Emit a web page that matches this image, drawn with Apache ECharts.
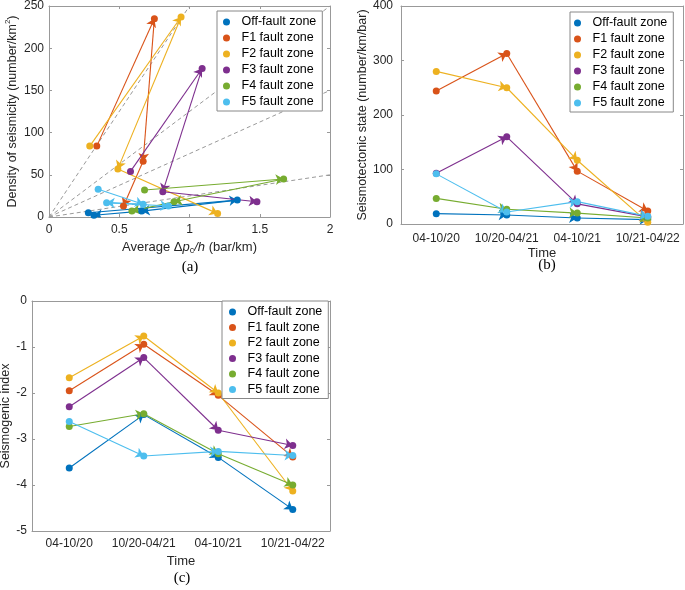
<!DOCTYPE html>
<html>
<head>
<meta charset="utf-8">
<script src="https://cdn.jsdelivr.net/npm/echarts@6/dist/echarts.min.js"></script>
<style>
  html, body { margin: 0; padding: 0; background: #fff; }
  #chart { width: 685px; height: 590px; }
</style>
</head>
<body>
<div id="chart"></div>
<script>
// zones and time windows
const zones = ["Off-fault zone", "F1 fault zone", "F2 fault zone", "F3 fault zone", "F4 fault zone", "F5 fault zone"];
const periods = ["04-10/20", "10/20-04/21", "04-10/21", "10/21-04/22"];

// (a) average Δpc/h (bar/km) and density of seismicity (number/km2), one row per zone
const avgRate = [
  [0.28, 1.34, 0.66, 0.32],
  [0.34, 0.75, 0.67, 0.53],
  [0.29, 0.94, 0.49, 1.20],
  [0.58, 1.09, 0.81, 1.48],
  [0.68, 1.67, 0.89, 0.59],
  [0.35, 0.67, 0.41, 0.85]
];
const density = [
  [5, 20, 7, 2],
  [84, 235, 66, 13],
  [84, 237, 57, 4],
  [54, 176, 30, 18],
  [32, 45, 18, 7],
  [33, 15, 17, 13]
];
// (b) seismotectonic state (number/km/bar)
const tectonicState = [
  [19, 16.5, 11, 8],
  [244, 313, 97, 24],
  [280, 250, 117, 3],
  [93, 160, 37, 13],
  [47, 27, 20, 11],
  [92, 22, 41, 14]
];
// (c) seismogenic index
const seismogenicIndex = [
  [-3.63, -2.47, -3.40, -4.53],
  [-1.95, -0.94, -2.05, -3.39],
  [-1.67, -0.76, -2.00, -4.13],
  [-2.30, -1.23, -2.81, -3.14],
  [-2.73, -2.45, -3.32, -4.00],
  [-2.62, -3.37, -3.27, -3.36]
];
// gray dashed guides in (a): density = k * rate
const guideSlopes = [25, 75, 125, 250];

const zoneColors = ["#0072BD", "#D95319", "#EDB120", "#7E2F8E", "#77AC30", "#4DBEEE"];

const FONT = "Liberation Sans";
const axisGray = "#999";
const textGray = "#262626";

const chart = echarts.init(document.getElementById("chart"));

// main axes are 0..2, mirrored box axes 3..5
function mainX(gi, extra) {
  return Object.assign({
    gridIndex: gi,
    position: "bottom",
    axisLine: { onZero: false, lineStyle: { color: axisGray, width: 1 } },
    axisTick: { inside: true, length: 3, lineStyle: { color: axisGray } },
    axisLabel: { color: textGray, fontFamily: FONT, fontSize: 12, margin: 7 },
    splitLine: { show: false },
    nameLocation: "middle",
    nameTextStyle: { color: textGray, fontFamily: FONT, fontSize: 13 }
  }, extra);
}
function mainY(gi, extra) {
  return Object.assign({
    gridIndex: gi,
    type: "value",
    position: "left",
    axisLine: { show: true, onZero: false, lineStyle: { color: axisGray, width: 1 } },
    axisTick: { show: true, inside: true, length: 3, lineStyle: { color: axisGray } },
    axisLabel: { color: textGray, fontFamily: FONT, fontSize: 12, margin: 5 },
    splitLine: { show: false },
    nameLocation: "middle",
    nameTextStyle: { color: textGray, fontFamily: FONT, fontSize: 12.5 }
  }, extra);
}
function boxAxis(base, pos) {
  return Object.assign({}, base, {
    position: pos,
    name: "",
    axisLabel: { show: false },
    axisLine: { show: true, onZero: false, lineStyle: { color: axisGray, width: 1 } }
  });
}

const xA = mainX(0, {
  type: "value", min: 0, max: 2, interval: 0.5,
  name: "Average Δ{i|p}{sub|c}{i|/h} (bar/km)", nameGap: 22,
  nameTextStyle: {
    color: textGray, fontFamily: FONT, fontSize: 13, lineHeight: 16,
    rich: {
      i: { fontStyle: "italic", fontFamily: FONT, fontSize: 13, color: textGray, lineHeight: 16 },
      sub: { fontFamily: FONT, fontSize: 9, color: textGray, verticalAlign: "bottom", lineHeight: 8 }
    }
  }
});
const xB = mainX(1, {
  type: "category", data: periods, boundaryGap: true,
  axisTick: { inside: true, length: 3, alignWithLabel: true, lineStyle: { color: axisGray } },
  axisLabel: { color: textGray, fontFamily: FONT, fontSize: 12, margin: 9, interval: 0 },
  name: "Time", nameGap: 23
});
const xC = mainX(2, {
  type: "category", data: periods, boundaryGap: true,
  axisTick: { inside: true, length: 3, alignWithLabel: true, lineStyle: { color: axisGray } },
  axisLabel: { color: textGray, fontFamily: FONT, fontSize: 12, margin: 7, interval: 0 },
  name: "Time", nameGap: 24
});
const yA = mainY(0, {
  min: 0, max: 250, interval: 50,
  name: "Density of seismicity (number/km{sup|2})", nameGap: 27,
  nameTextStyle: {
    color: textGray, fontFamily: FONT, fontSize: 12.5, lineHeight: 16,
    rich: { sup: { fontFamily: FONT, fontSize: 8, color: textGray, verticalAlign: "top", lineHeight: 8 } }
  }
});
const yB = mainY(1, {
  min: 0, max: 400, interval: 100, axisLabel: { color: textGray, fontFamily: FONT, fontSize: 12, margin: 8 },
  name: "Seismotectonic state (number/km/bar)", nameGap: 20
});
const yC = mainY(2, {
  min: -5, max: 0, interval: 1,
  name: "Seismogenic index", nameGap: 13
});

const xAxes = [xA, xB, xC, boxAxis(xA, "top"), boxAxis(xB, "top"), boxAxis(xC, "top")];
const yAxes = [yA, yB, yC, boxAxis(yA, "right"), boxAxis(yB, "right"), boxAxis(yC, "right")];

const series = [];

// dashed guides in (a), clipped to the axis box
const xMaxA = 2, yMaxA = 250;
series.push({
  type: "lines", coordinateSystem: "cartesian2d", xAxisIndex: 0, yAxisIndex: 0,
  silent: true, symbol: "none", z: 1,
  lineStyle: { color: "#999", type: [4, 3], width: 1, opacity: 1 },
  data: guideSlopes.map(k => {
    const xEnd = Math.min(xMaxA, yMaxA / k);
    return { coords: [[0, 0], [xEnd, k * xEnd]] };
  })
});

function arrows(gi, pts, color) {
  const data = [];
  for (let i = 0; i < pts.length - 1; i++) data.push({ coords: [pts[i], pts[i + 1]] });
  return {
    type: "lines", coordinateSystem: "cartesian2d", xAxisIndex: gi, yAxisIndex: gi,
    silent: true, symbol: ["none", "arrow"], symbolSize: 8, z: 3,
    lineStyle: { color: color, width: 1.1, opacity: 1 },
    data: data
  };
}
function dots(gi, name, pts, color) {
  return {
    name: name, type: "scatter", xAxisIndex: gi, yAxisIndex: gi,
    symbol: "circle", symbolSize: 7, z: 4,
    itemStyle: { color: color, opacity: 1 },
    data: pts
  };
}

zones.forEach((zone, z) => {
  const ptsA = avgRate[z].map((x, i) => [x, density[z][i]]);
  const ptsB = tectonicState[z].map((v, i) => [i, v]);
  const ptsC = seismogenicIndex[z].map((v, i) => [i, v]);
  series.push(dots(0, zone, ptsA, zoneColors[z]));
  series.push(dots(1, zone, ptsB, zoneColors[z]));
  series.push(dots(2, zone, ptsC, zoneColors[z]));
  series.push(arrows(0, ptsA, zoneColors[z]));
  series.push(arrows(1, ptsB, zoneColors[z]));
  series.push(arrows(2, ptsC, zoneColors[z]));
});

function legendAt(left, top, padL, gap) {
  return {
    orient: "vertical", left: left, top: top, data: zones,
    icon: "circle", itemWidth: 20, itemHeight: 7, itemGap: gap,
    padding: [4, 6, 2, padL],
    backgroundColor: "#fff", borderColor: "#888", borderWidth: 1, borderRadius: 0,
    selectedMode: false,
    textStyle: { color: "#000", fontFamily: FONT, fontSize: 12.5, lineHeight: 14 },
    z: 10
  };
}

const option = {
  animation: false,
  backgroundColor: "#fff",
  grid: [
    { left: 49, top: 6, width: 281, height: 211, outerBoundsMode: "none" },
    { left: 401, top: 6, width: 282, height: 218, outerBoundsMode: "none" },
    { left: 32, top: 301, width: 298, height: 230, outerBoundsMode: "none" }
  ],
  xAxis: xAxes,
  yAxis: yAxes,
  legend: [
    legendAt(217, 11, 6, 2),
    legendAt(570, 12, 4, 2),
    legendAt(222, 301, 7, 1.5)
  ],
  graphic: [
    { type: "text", x: 190, y: 267, style: { text: "(a)", font: '15px "Liberation Serif"', fill: "#000", align: "center", verticalAlign: "middle" } },
    { type: "text", x: 547, y: 265, style: { text: "(b)", font: '15px "Liberation Serif"', fill: "#000", align: "center", verticalAlign: "middle" } },
    { type: "text", x: 182, y: 578, style: { text: "(c)", font: '15px "Liberation Serif"', fill: "#000", align: "center", verticalAlign: "middle" } }
  ],
  series: series
};

chart.setOption(option);
</script>
</body>
</html>
